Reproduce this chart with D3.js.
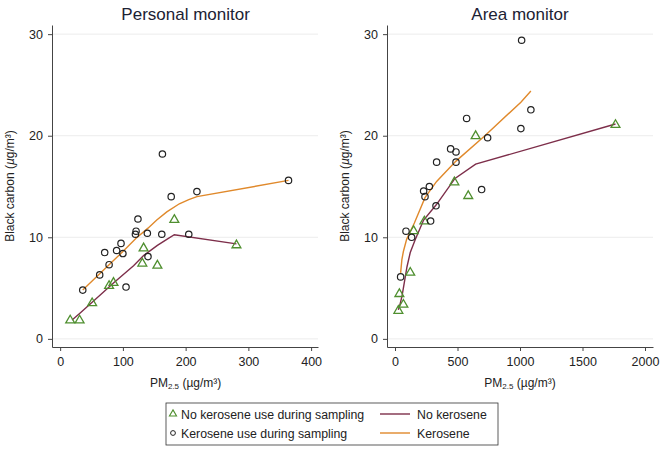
<!DOCTYPE html>
<html lang="en">
<head>
<meta charset="UTF-8">
<script src="https://cdn.jsdelivr.net/npm/d3@7"></script>
<title>Black carbon vs PM2.5</title>
<style>
  body { margin: 0; background: white; }
  svg { font-family: 'Liberation Sans', Arial, sans-serif; }
  .tick text { font-size: 12.5px; fill: #222; }
  .grid line { stroke: #ececec; stroke-width: 1px; }
</style>
</head>
<body>
<div id="chart"></div>
<script>
// Personal monitor: [PM2.5, black carbon]
const personalNoKero = [[16,1.9],[31,1.9],[51,3.6],[78,5.3],[85,5.6],[131,7.5],[133,9.0],[155,7.3],[182,11.8],[281,9.3]];
const personalKero = [[36,4.8],[63,6.3],[71,8.5],[78,7.3],[90,8.7],[97,9.4],[100,8.4],[105,5.1],[120,10.3],[121,10.6],
  [124,11.8],[139,10.4],[140,8.1],[162,10.3],[163,18.2],[177,14.0],[205,10.3],[218,14.5],[364,15.6]];
const personalNoKeroFit = [[19,1.85],[31,2.5],[51,3.6],[78,5.1],[85,5.5],[117,7.2],[133,8.2],[155,9.2],[170,9.8],[182,10.25],[281,9.35]];
const personalKeroFit = [[36,4.8],[63,6.4],[78,7.3],[90,8.0],[100,8.6],[121,9.9],[140,10.9],[154,11.7],[170,12.5],[190,13.3],[205,13.7],[218,14.0],[364,15.6]];

// Area monitor
const areaNoKero = [[27,2.85],[35,4.5],[67,3.45],[122,6.6],[149,10.7],[235,11.65],[475,15.5],[586,14.15],[645,20.05],[1764,21.15]];
const areaKero = [[45,6.1],[88,10.6],[133,10.0],[229,14.55],[240,14.0],[275,15.0],[285,11.6],[328,13.1],[333,17.4],[445,18.7],
  [488,18.4],[488,17.4],[573,21.7],[693,14.7],[741,19.8],[1007,20.7],[1013,29.4],[1087,22.55]];
const areaNoKeroFit = [[27,2.85],[40,3.4],[56,4.2],[67,5.0],[96,7.1],[122,8.5],[163,9.8],[229,11.7],[330,13.2],[480,15.8],[645,17.2],[1764,21.15]];
const areaKeroFit = [[45,6.5],[55,7.8],[67,8.6],[93,9.8],[155,11.4],[240,13.9],[333,15.5],[488,17.5],[719,20.0],[1007,23.3],[1087,24.4]];

const yTicks = [0, 10, 20, 30];
const personalXTicks = [0, 100, 200, 300, 400];
const areaXTicks = [0, 500, 1000, 1500, 2000];

const legendMarkers = ["No kerosene use during sampling", "Kerosene use during sampling"];
const legendLines = ["No kerosene", "Kerosene"];

const colNoKeroMarker = "#4f8f2f";
const colNoKeroLine = "#7d2e4a";
const colKeroLine = "#e0892b";

const width = 664, height = 450;
const svg = d3.select("#chart").append("svg")
  .attr("width", width)
  .attr("height", height);

const triangle = d3.symbol().type(d3.symbolTriangle).size(34);

const drawPanel = (title, xDomain, xRange, xTicks, noKero, kero, noKeroFit, keroFit, labelX) => {
  const x = d3.scaleLinear().domain(xDomain).range(xRange);
  const y = d3.scaleLinear().domain([-0.8, 30.9]).range([347, 25]);
  const g = svg.append("g");

  g.append("g").attr("class", "grid")
    .selectAll("line").data(yTicks).enter().append("line")
    .attr("x1", xRange[0]).attr("x2", xRange[1])
    .attr("y1", d => y(d)).attr("y2", d => y(d));

  const yAxis = g.append("g")
    .attr("transform", `translate(${xRange[0]},0)`)
    .call(d3.axisLeft(y).tickValues(yTicks).tickSize(4).tickSizeOuter(0).tickPadding(5));
  const xAxis = g.append("g")
    .attr("transform", `translate(0,${y.range()[0]})`)
    .call(d3.axisBottom(x).tickValues(xTicks).tickFormat(d3.format("d")).tickSize(4).tickSizeOuter(0).tickPadding(6));
  [yAxis, xAxis].forEach(a => {
    a.select(".domain").attr("stroke", "#444");
    a.selectAll(".tick line").attr("stroke", "#444");
  });

  const line = d3.line().x(d => x(d[0])).y(d => y(d[1]));
  g.append("path").datum(noKeroFit)
    .attr("d", line).attr("fill", "none").attr("stroke", colNoKeroLine).attr("stroke-width", 1.4);
  g.append("path").datum(keroFit)
    .attr("d", line).attr("fill", "none").attr("stroke", colKeroLine).attr("stroke-width", 1.4);

  g.selectAll(".tri").data(noKero).enter().append("path")
    .attr("class", "tri")
    .attr("d", triangle)
    .attr("transform", d => `translate(${x(d[0])},${y(d[1]) + 0.8})`)
    .attr("fill", "none").attr("stroke", colNoKeroMarker).attr("stroke-width", 1.3);
  g.selectAll(".circ").data(kero).enter().append("circle")
    .attr("class", "circ")
    .attr("cx", d => x(d[0])).attr("cy", d => y(d[1])).attr("r", 3.2)
    .attr("fill", "none").attr("stroke", "#222").attr("stroke-width", 1.2);

  const mid = x(xTicks[0]) + (x(xTicks[xTicks.length - 1]) - x(xTicks[0])) / 2;
  g.append("text")
    .attr("x", mid)
    .attr("y", 20)
    .attr("text-anchor", "middle")
    .attr("font-size", 17)
    .attr("fill", "#1c2233")
    .text(title);

  const xl = g.append("text")
    .attr("x", mid)
    .attr("y", 387)
    .attr("text-anchor", "middle")
    .attr("font-size", 12)
    .attr("fill", "#222");
  xl.append("tspan").text("PM");
  xl.append("tspan").attr("font-size", 8).attr("dy", 2).text("2.5");
  xl.append("tspan").attr("dy", -2).text(" (µg/m³)");

  const yl = g.append("text")
    .attr("transform", `translate(${labelX},186) rotate(-90)`)
    .attr("text-anchor", "middle")
    .attr("font-size", 12)
    .attr("fill", "#222");
  yl.append("tspan").text("Black carbon (");
  yl.append("tspan").attr("font-style", "italic").text("µ");
  yl.append("tspan").text("g/m³)");
};

drawPanel("Personal monitor", [-13, 411], [52, 318], personalXTicks,
  personalNoKero, personalKero, personalNoKeroFit, personalKeroFit, 14);
drawPanel("Area monitor", [-64, 2064], [387, 653], areaXTicks,
  areaNoKero, areaKero, areaNoKeroFit, areaKeroFit, 349);

// legend
const legend = svg.append("g");
legend.append("rect")
  .attr("x", 166).attr("y", 403).attr("width", 332).attr("height", 42)
  .attr("fill", "white").attr("stroke", "#333").attr("stroke-width", 0.8);
const rowY = [414, 433];
legend.append("path")
  .attr("d", d3.symbol().type(d3.symbolTriangle).size(22))
  .attr("transform", `translate(173,${rowY[0]})`)
  .attr("fill", "none").attr("stroke", colNoKeroMarker).attr("stroke-width", 1.1);
legend.append("circle")
  .attr("cx", 173).attr("cy", rowY[1]).attr("r", 2.4)
  .attr("fill", "none").attr("stroke", "#222").attr("stroke-width", 1);
legend.selectAll(".lm").data(legendMarkers).enter().append("text")
  .attr("x", 181).attr("y", (d, i) => rowY[i] + 4.5)
  .attr("font-size", 12.3).attr("fill", "#222")
  .text(d => d);
[colNoKeroLine, colKeroLine].forEach((c, i) => {
  legend.append("line")
    .attr("x1", 380).attr("x2", 410).attr("y1", rowY[i]).attr("y2", rowY[i])
    .attr("stroke", c).attr("stroke-width", 1.4);
});
legend.selectAll(".ll").data(legendLines).enter().append("text")
  .attr("x", 417).attr("y", (d, i) => rowY[i] + 4.5)
  .attr("font-size", 12.3).attr("fill", "#222")
  .text(d => d);
</script>
</body>
</html>
